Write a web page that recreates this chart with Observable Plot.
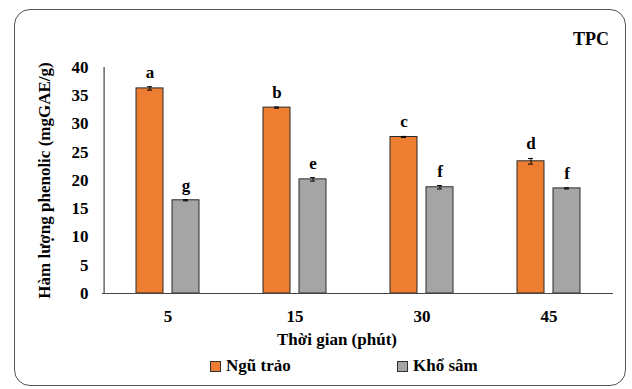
<!DOCTYPE html>
<html><head><meta charset="utf-8">
<script src="https://cdn.jsdelivr.net/npm/d3@7"></script>
<script src="https://cdn.jsdelivr.net/npm/@observablehq/plot@0.6"></script>
<style>
body{margin:0;background:#fff;font-family:"Times New Roman","Liberation Serif",serif;}
#wrap{position:relative;width:632px;height:389px;overflow:hidden;}
#border{position:absolute;left:14px;top:9px;width:612px;height:377px;border:1.5px solid #555;border-radius:16px;box-sizing:border-box;}
#tpc{position:absolute;left:573px;top:29px;font-weight:bold;font-size:18px;}
#xtitle{position:absolute;left:187px;top:330px;width:300px;text-align:center;font-weight:bold;font-size:17px;}
#legend{position:absolute;left:0;top:354px;width:632px;height:26px;font-weight:bold;font-size:17px;}
.item{position:absolute;top:2px;display:flex;align-items:center;gap:5px;}
.sw{width:11px;height:11px;border:1px solid #333;box-sizing:border-box;}
</style></head>
<body><div id="wrap"><div id="chart"></div><div id="border"></div><div id="tpc">TPC</div><div id="xtitle"></div><div id="legend"></div></div>
<script>
const times = ["5","15","30","45"];
const seriesNames = ["Ngũ trảo","Khổ sâm"];
const nguTrao = [36.3, 32.9, 27.7, 23.4];
const nguTraoErr = [0.3, 0.1, 0.1, 0.5];
const nguTraoLetters = ["a","b","c","d"];
const khoSam = [16.5, 20.2, 18.8, 18.6];
const khoSamErr = [0.1, 0.3, 0.3, 0.1];
const khoSamLetters = ["g","e","f","f"];
const yTicks = [0,5,10,15,20,25,30,35,40];
const xTitle = "Thời gian (phút)";
const yTitle = "Hàm lượng phenolic (mgGAE/g)";
const colors = ["#ED7D31","#A5A5A5"];

const A = times.map((t,i)=>({t, v:nguTrao[i], e:nguTraoErr[i], l:nguTraoLetters[i]}));
const B = times.map((t,i)=>({t, v:khoSam[i], e:khoSamErr[i], l:khoSamLetters[i]}));

const FF = '"Times New Roman","Liberation Serif",serif';
const font = {fontFamily:FF, fontWeight:"bold"};
function series(data, color, dx){
  return [
    Plot.barY(data, {x:"t", y:"v", fill:color, stroke:"#2a2a2a", strokeWidth:1, insetLeft:50, insetRight:50, dx}),
    Plot.ruleX(data, {x:"t", y1:d=>d.v-d.e, y2:d=>d.v+d.e, stroke:"#000", dx}),
    Plot.tickY(data, {x:"t", y:d=>d.v+d.e, stroke:"#000", insetLeft:61, insetRight:61, dx}),
    Plot.tickY(data, {x:"t", y:d=>d.v-d.e, stroke:"#000", insetLeft:61, insetRight:61, dx}),
    Plot.text(data, {x:"t", y:d=>d.v+d.e, text:"l", dx, dy:-9, lineAnchor:"bottom", fontSize:17, fill:"#000", ...font})
  ];
}

const chart = Plot.plot({
  width:632, height:352,
  marginLeft:102, marginRight:19, marginTop:67, marginBottom:59,
  style:{fontFamily:FF, fontWeight:"bold", fontSize:"17px", color:"#000", background:"transparent"},
  x:{domain:times, padding:0, label:null},
  y:{domain:[0,40], label:null},
  marks:[
    ...series(A, colors[0], -18),
    ...series(B, colors[1], 18),
    Plot.ruleY([0], {stroke:"#444", strokeWidth:1.2}),
    Plot.ruleX([0], {x:()=>times[0], dx:-63.9, y1:0, y2:40, stroke:"#444", strokeWidth:1.2}),
    Plot.axisY({ticks:yTicks, tickSize:0, tickPadding:14, label:yTitle, labelArrow:"none", labelAnchor:"center", labelOffset:65, fontSize:17, ...font}),
    Plot.axisX({tickSize:0, tickPadding:16, label:null, fontSize:17, ...font})
  ]
});
document.getElementById("chart").appendChild(chart);
document.getElementById("xtitle").textContent = xTitle;

const legend = document.getElementById("legend");
const lx = [210, 397];
seriesNames.forEach((n,i)=>{
  const it = document.createElement("div");
  it.className="item"; it.style.left = lx[i]+"px";
  const sw = document.createElement("div"); sw.className="sw"; sw.style.background=colors[i];
  const tx = document.createElement("span"); tx.textContent=n;
  it.appendChild(sw); it.appendChild(tx); legend.appendChild(it);
});
</script></body></html>
